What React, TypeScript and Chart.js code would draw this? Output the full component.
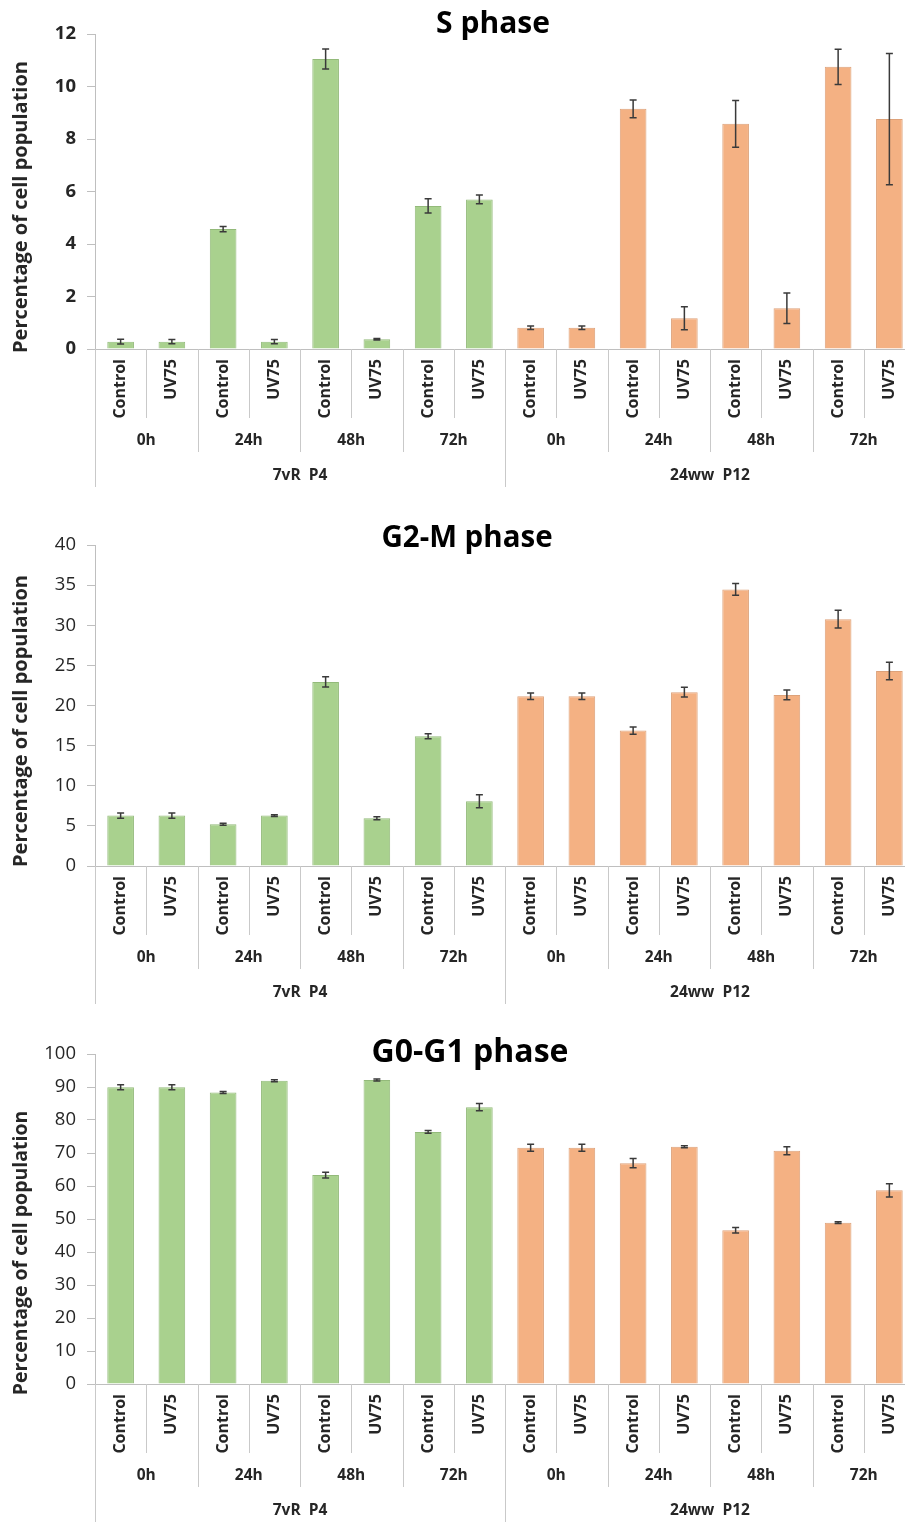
import React, { useEffect, useRef } from 'react';
import { Chart, registerables } from 'chart.js';

Chart.register(...registerables);

// ---------- data ----------
const categories = [
  'Control', 'UV75', 'Control', 'UV75', 'Control', 'UV75', 'Control', 'UV75',
  'Control', 'UV75', 'Control', 'UV75', 'Control', 'UV75', 'Control', 'UV75',
];
const timePoints = ['0h', '24h', '48h', '72h', '0h', '24h', '48h', '72h'];
const cellLines = ['7vR  P4', '24ww  P12'];
const cellLineOfBar = [0, 0, 0, 0, 0, 0, 0, 0, 1, 1, 1, 1, 1, 1, 1, 1];

const sPhaseValues = [0.28, 0.28, 4.57, 0.28, 11.05, 0.37, 5.45, 5.7, 0.81, 0.81, 9.15, 1.17, 8.58, 1.55, 10.75, 8.76];
const sPhaseErrors = [0.09, 0.08, 0.1, 0.08, 0.38, 0.03, 0.27, 0.17, 0.07, 0.07, 0.34, 0.44, 0.89, 0.58, 0.67, 2.5];

const g2mValues = [6.28, 6.28, 5.2, 6.28, 22.94, 5.95, 16.17, 8.07, 21.16, 21.16, 16.87, 21.66, 34.46, 21.32, 30.76, 24.3];
const g2mErrors = [0.33, 0.33, 0.12, 0.12, 0.65, 0.18, 0.3, 0.8, 0.4, 0.4, 0.45, 0.6, 0.73, 0.6, 1.1, 1.1];

const g0g1Values = [89.9, 89.9, 88.3, 91.9, 63.3, 92.1, 76.4, 83.9, 71.6, 71.6, 66.9, 71.9, 46.6, 70.7, 48.9, 58.7];
const g0g1Errors = [0.76, 0.76, 0.3, 0.3, 0.9, 0.3, 0.4, 1.1, 1.05, 1.05, 1.4, 0.3, 0.86, 1.2, 0.3, 2.0];

const phaseTitles = ['S phase', 'G2-M phase', 'G0-G1 phase'];
const phaseValues = [sPhaseValues, g2mValues, g0g1Values];
const phaseErrors = [sPhaseErrors, g2mErrors, g0g1Errors];
const yMaxima = [12, 40, 100];
const ySteps = [2, 5, 10];
const yAxisTitle = 'Percentage of cell population';

// ---------- style ----------
const FONT = "'Open Sans', 'Noto Sans', sans-serif";
const fillColors = ['#A9D18E', '#F4B183'];
const borderColors = ['#93BA7A', '#DDA27A'];
const axisColor = '#BFBFBF';
const sepColor = '#C9C9C9';
const errColor = '#3A3A3A';
const textColor = '#262626';

const CANVAS_W = 915;

const layouts = [
  { top: 0, height: 507, plotTop: 34, plotBottom: 349, titleX: 493, titleBase: 33, titleSize: 30, tickBold: true, tickSize: 18.5, yTitleY: 207, yTitleSize: 20 },
  { top: 507, height: 507, plotTop: 38, plotBottom: 359, titleX: 467, titleBase: 40, titleSize: 29.5, tickBold: false, tickSize: 18.5, yTitleY: 214, yTitleSize: 20 },
  { top: 1014, height: 508, plotTop: 40, plotBottom: 370, titleX: 470, titleBase: 48, titleSize: 32, tickBold: false, tickSize: 18.5, yTitleY: 239, yTitleSize: 19.5 },
];

const decorPlugin = {
  id: 'decor',
  afterDraw(chart: any, _args: any, opts: any) {
    const { ctx } = chart;
    const xs = chart.scales.x;
    const ys = chart.scales.y;
    const axisY = ys.getPixelForValue(0);
    const n = categories.length;
    const bottom = chart.height;

    // error bars
    ctx.save();
    ctx.strokeStyle = errColor;
    ctx.lineWidth = 1.5;
    for (let i = 0; i < n; i++) {
      const v = opts.values[i];
      const e = opts.errors[i];
      const x = xs.getPixelForValue(i);
      const yt = ys.getPixelForValue(v + e);
      const yb = ys.getPixelForValue(v - e);
      ctx.beginPath();
      ctx.moveTo(x, yt);
      ctx.lineTo(x, yb);
      ctx.moveTo(x - 3.5, yt);
      ctx.lineTo(x + 3.5, yt);
      ctx.moveTo(x - 3.5, yb);
      ctx.lineTo(x + 3.5, yb);
      ctx.stroke();
    }
    ctx.restore();

    // boundaries
    const boundary = (i: number) => {
      if (i === 0) return xs.left;
      if (i === n) return xs.right;
      return (xs.getPixelForValue(i - 1) + xs.getPixelForValue(i)) / 2;
    };
    ctx.save();
    ctx.strokeStyle = sepColor;
    ctx.lineWidth = 1;
    for (let i = 0; i <= n; i++) {
      let depth = 69;
      if (i % 8 === 0) depth = 138;
      else if (i % 2 === 0) depth = 103;
      const x = Math.round(boundary(i)) + 0.5;
      ctx.beginPath();
      ctx.moveTo(x, axisY);
      ctx.lineTo(x, Math.min(axisY + depth, bottom));
      ctx.stroke();
    }
    ctx.restore();

    // category labels (rotated)
    ctx.save();
    ctx.fillStyle = textColor;
    ctx.font = `bold 16px ${FONT}`;
    for (let i = 0; i < n; i++) {
      const x = xs.getPixelForValue(i);
      ctx.save();
      ctx.translate(x, axisY + 10);
      ctx.rotate(-Math.PI / 2);
      ctx.textAlign = 'right';
      ctx.textBaseline = 'middle';
      ctx.fillText(categories[i], 0, 0);
      ctx.restore();
    }
    // time labels
    ctx.font = `bold 15.5px ${FONT}`;
    ctx.textAlign = 'center';
    ctx.textBaseline = 'middle';
    for (let g = 0; g < timePoints.length; g++) {
      const x = (boundary(g * 2) + boundary(g * 2 + 2)) / 2;
      ctx.fillText(timePoints[g], x, axisY + 92);
    }
    // cell lines
    for (let g = 0; g < cellLines.length; g++) {
      const x = (boundary(g * 8) + boundary(g * 8 + 8)) / 2;
      ctx.fillText(cellLines[g], x, axisY + 127);
    }
    ctx.restore();

    // y axis title
    ctx.save();
    ctx.fillStyle = textColor;
    ctx.font = `bold ${opts.yTitleSize}px ${FONT}`;
    ctx.translate(21, opts.yTitleY);
    ctx.rotate(-Math.PI / 2);
    ctx.textAlign = 'center';
    ctx.textBaseline = 'middle';
    ctx.fillText(yAxisTitle, 0, 0);
    ctx.restore();

    // chart title
    ctx.save();
    ctx.fillStyle = '#000';
    ctx.font = `bold ${opts.titleSize}px ${FONT}`;
    ctx.textAlign = 'center';
    ctx.textBaseline = 'alphabetic';
    ctx.fillText(opts.title, opts.titleX, opts.titleBase);
    ctx.restore();
  },
};

function PhaseChart({ index }: { index: number }) {
  const ref = useRef<HTMLCanvasElement>(null);
  const L = layouts[index];
  useEffect(() => {
    const chart = new Chart(ref.current as HTMLCanvasElement, {
      type: 'bar',
      data: {
        labels: categories,
        datasets: [
          {
            data: phaseValues[index],
            backgroundColor: cellLineOfBar.map((c) => fillColors[c]),
            borderColor: cellLineOfBar.map((c) => borderColors[c]),
            borderWidth: 1,
            barPercentage: 0.52,
            categoryPercentage: 1,
          },
        ],
      },
      options: {
        responsive: false,
        animation: false,
        devicePixelRatio: 1,
        layout: { padding: { top: L.plotTop, left: 0, right: 0, bottom: 0 } },
        plugins: {
          legend: { display: false },
          tooltip: { enabled: false },
          title: { display: false },
          decor: {
            values: phaseValues[index],
            errors: phaseErrors[index],
            title: phaseTitles[index],
            titleX: L.titleX,
            titleBase: L.titleBase,
            titleSize: L.titleSize,
            yTitleY: L.yTitleY,
            yTitleSize: L.yTitleSize,
          },
        } as any,
        scales: {
          x: {
            ticks: { display: false },
            grid: { display: false },
            border: { display: true, color: axisColor, width: 1 },
            afterFit: (s: any) => {
              s.height = L.height - L.plotBottom;
            },
          },
          y: {
            min: 0,
            max: yMaxima[index],
            ticks: {
              stepSize: ySteps[index],
              color: textColor,
              padding: 11,
              font: { family: FONT, size: L.tickSize, weight: L.tickBold ? 'bold' : 'normal' },
            },
            grid: { drawOnChartArea: false, drawTicks: true, tickLength: 8, color: axisColor },
            border: { display: true, color: axisColor, width: 1 },
            afterFit: (s: any) => {
              s.width = 95;
            },
          },
        },
      },
      plugins: [decorPlugin],
    });
    return () => chart.destroy();
  }, []);
  return (
    <div style={{ position: 'absolute', left: 0, top: L.top, width: CANVAS_W, height: L.height }}>
      <canvas ref={ref} width={CANVAS_W} height={L.height} style={{ display: 'block', width: CANVAS_W, height: L.height }} />
    </div>
  );
}

export default function App() {
  return (
    <div style={{ position: 'absolute', left: 0, top: 0, width: 905, height: 1522, overflow: 'hidden', background: '#fff' }}>
      {layouts.map((_, i) => (
        <PhaseChart key={i} index={i} />
      ))}
    </div>
  );
}
